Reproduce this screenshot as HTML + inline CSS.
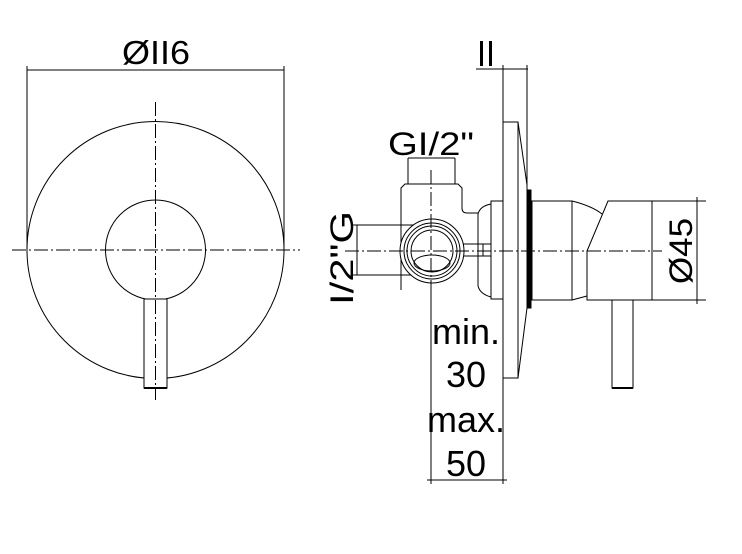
<!DOCTYPE html>
<html><head><style>html,body{margin:0;padding:0;background:#fff}svg{display:block}</style></head>
<body>
<svg width="742" height="554" viewBox="0 0 742 554" xmlns="http://www.w3.org/2000/svg" font-family="Liberation Sans, sans-serif">
<g fill="none" stroke="#000" stroke-width="1">
<line x1="27" y1="70" x2="284" y2="70"/>
<line x1="27" y1="66" x2="27" y2="250"/>
<line x1="284" y1="66" x2="284" y2="250"/>
<circle cx="155.5" cy="250" r="128.5"/>
<circle cx="155.5" cy="250" r="50"/>
<rect x="144" y="299" width="23" height="89" fill="#fff"/>
<line x1="144" y1="388" x2="167" y2="388" stroke-width="2"/>
<line x1="12" y1="250" x2="300" y2="250" stroke-dasharray="14,3,2,3"/>
<line x1="155.5" y1="102" x2="155.5" y2="400" stroke-dasharray="14,3,2,3"/>

<line x1="476" y1="69" x2="528" y2="69"/>
<line x1="503" y1="65" x2="503" y2="122"/>
<line x1="527" y1="65" x2="527" y2="190"/>
<line x1="408" y1="158" x2="455" y2="158"/>
<line x1="408" y1="158" x2="408" y2="184"/>
<line x1="455" y1="158" x2="455" y2="184"/>
<line x1="357" y1="225" x2="357" y2="275"/>
<line x1="353" y1="225" x2="415" y2="225"/>
<line x1="353" y1="275" x2="415" y2="275"/>
<line x1="652" y1="201" x2="706" y2="201"/>
<line x1="652" y1="300" x2="706" y2="300"/>
<line x1="697" y1="197" x2="697" y2="304"/>
<line x1="431" y1="280" x2="431" y2="484"/>
<line x1="503" y1="378" x2="503" y2="484"/>
<line x1="427" y1="480" x2="507" y2="480"/>

<path d="M503,122 L518,122 L527,185 L527,308 L518,378 L503,378 Z" fill="#fff"/>
<line x1="518" y1="122" x2="518" y2="378"/>
<rect x="527" y="190" width="4" height="118" fill="#000"/>
<rect x="491" y="201" width="12" height="98"/>
<path d="M478,214 Q480,206 491,204 M478,286 Q480,294 491,297"/>
<line x1="478" y1="214" x2="478" y2="286"/>
<path d="M401,290 L401,188 L405,184 L458,184 L462,188 L462,208 Q462,213 467,213 L478,213"/>
<line x1="462" y1="244" x2="491" y2="244"/><line x1="462" y1="256" x2="491" y2="256"/>
<line x1="483" y1="244" x2="483" y2="256"/>
<circle cx="432" cy="251" r="32" fill="#fff"/>
<circle cx="432" cy="251" r="28"/>
<circle cx="432" cy="251" r="25"/>
<circle cx="432" cy="251" r="21"/>
<ellipse cx="432" cy="263" rx="18" ry="8"/>
<rect x="532" y="201" width="40" height="99"/>
<path d="M572,201 Q592,206 602,214 M572,300 L587,296"/>
<path d="M608,201 L652,201 L652,300 L587,300 L587,251 Z" fill="#fff"/>
<rect x="612" y="300" width="21" height="88"/>
<line x1="612" y1="388" x2="633" y2="388" stroke-width="2"/>
<line x1="345" y1="251" x2="662" y2="251" stroke-dasharray="14,3,2,3"/>
<line x1="431" y1="170" x2="431" y2="290" stroke-dasharray="14,3,2,3"/>
</g>
<g fill="#000">
<text x="156" y="64" font-size="33" text-anchor="middle" textLength="68" lengthAdjust="spacingAndGlyphs">ØII6</text>
<text x="486" y="66" font-size="36" text-anchor="middle" textLength="18" lengthAdjust="spacingAndGlyphs">II</text>
<text x="431" y="155" font-size="32" text-anchor="middle" textLength="86" lengthAdjust="spacingAndGlyphs">GI/2"</text>
<text transform="translate(353,258) rotate(-90)" font-size="32" text-anchor="middle" textLength="94" lengthAdjust="spacingAndGlyphs">I/2"G</text>
<text transform="translate(692,251) rotate(-90)" font-size="32" text-anchor="middle" textLength="66" lengthAdjust="spacingAndGlyphs">Ø45</text>
<text x="466" y="344" font-size="36" text-anchor="middle">min.</text>
<text x="466" y="387" font-size="36" text-anchor="middle">30</text>
<text x="466" y="432" font-size="36" text-anchor="middle">max.</text>
<text x="466" y="476" font-size="36" text-anchor="middle">50</text>
</g>
</svg>
</body></html>
